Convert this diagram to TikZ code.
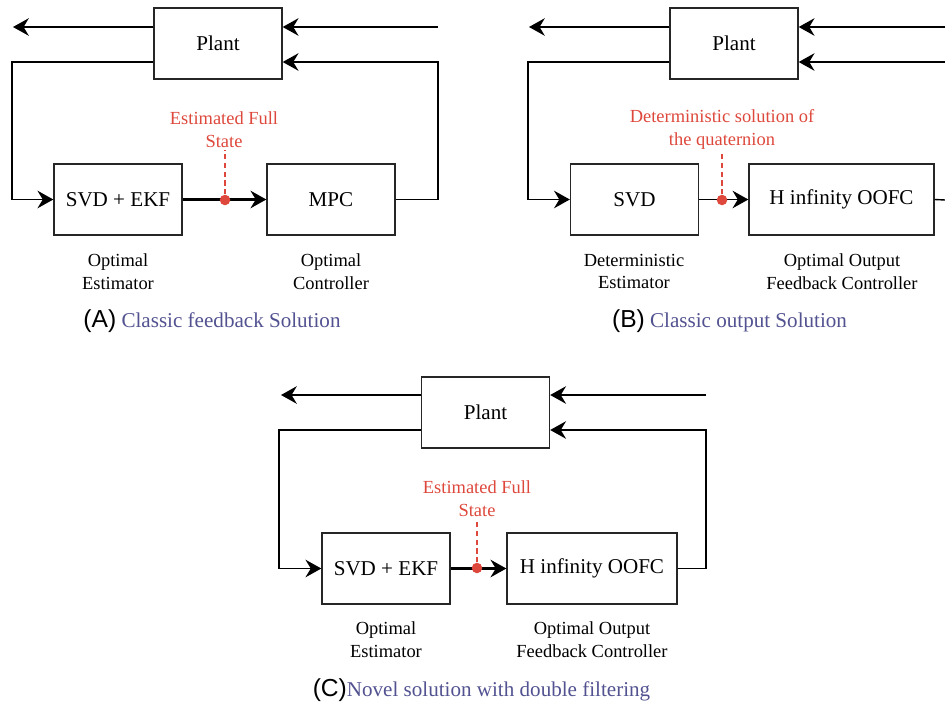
\documentclass[tikz,border=0pt]{standalone}
\usepackage{fontspec}
\setmainfont{Liberation Serif}
\newfontfamily\capsans{Liberation Sans}
\usetikzlibrary{arrows.meta}
\definecolor{notered}{RGB}{222,72,60}
\definecolor{capblue}{RGB}{82,82,145}
\tikzset{
	blockstyle/.style={rectangle,draw=black!85,line width=0.8pt,inner sep=0pt,minimum width=2.56cm,minimum height=1.42cm,font=\fontsize{12}{14}\selectfont},
	labelstyle/.style={align=center,inner sep=1pt,font=\fontsize{10.5}{13}\selectfont},
	notestyle/.style={align=center,inner sep=1pt,text=notered,font=\fontsize{10.5}{13}\selectfont},
	dotstyle/.style={circle,fill=notered,inner sep=0pt,minimum size=6pt},
	captionstyle/.style={inner sep=0pt,text=capblue,font=\fontsize{12}{14}\selectfont},
	linestyle/.style={line width=0.8pt,-{Stealth[length=9pt,width=10pt,inset=3pt]}},
	plainline/.style={line width=0.8pt},
	mainline/.style={line width=1.2pt,-{Stealth[length=9pt,width=10pt,inset=3pt]}},
	dashstyle/.style={draw=notered,line width=0.8pt,dash pattern=on 3pt off 2pt}
}
\begin{document}
\begin{tikzpicture}[x=0.02cm,y=-0.02cm]
		\useasboundingbox (0,0) rectangle (945,706);
		% (A)
		\node[blockstyle] (plantA) at (218,43.5) {Plant};
		\node[blockstyle] (estA) at (118,199.5) {SVD + EKF};
		\node[blockstyle] (ctrlA) at (331,199.5) {MPC};
		\node[notestyle] (noteA) at (224,129.5) {Estimated Full\\State};
		\node[labelstyle] (estlabA) at (118,271.5) {Optimal\\Estimator};
		\node[labelstyle] (ctrllabA) at (331,271.5) {Optimal\\Controller};
		\node[captionstyle] (capA) at (212,321) {{\color{black}\capsans\fontsize{14}{16}\selectfont(A)} Classic feedback Solution};
		\coordinate (outA) at (13,27);
		\coordinate (inA) at (438,27);
		\coordinate (fbA) at (438,62);
		\coordinate (msA) at (12,62);
		\draw[linestyle] (plantA.west |- outA)--(outA);
		\draw[linestyle] (inA)--(plantA.east |- inA);
		\draw[linestyle] (ctrlA.east) -| (fbA)--(plantA.east |- fbA);
		\draw[linestyle] (plantA.west |- msA)--(msA) |- (estA.west);
		\draw[mainline] (estA.east)--(ctrlA.west);
		\node[dotstyle] (dotA) at (225,200) {};
		\draw[dashstyle] (dotA)--(dotA |- noteA.south);
		% (B)
		\node[blockstyle] (plantB) at (734,43.5) {Plant};
		\node[blockstyle] (estB) at (634.5,199.5) {SVD};
		\node[blockstyle,minimum width=3.7cm] (ctrlB) at (841.5,199.5) {H infinity OOFC};
		\node[notestyle] (noteB) at (722,129.5) {Deterministic solution of\\the quaternion};
		\node[labelstyle] (estlabB) at (634,271.5) {Deterministic\\Estimator};
		\node[labelstyle] (ctrllabB) at (842,271.5) {Optimal Output\\Feedback Controller};
		\node[captionstyle] (capB) at (729.5,321) {{\color{black}\capsans\fontsize{14}{16}\selectfont(B)} Classic output Solution};
		\coordinate (outB) at (529,27);
		\coordinate (inB) at (945,27);
		\coordinate (fbB) at (945,62);
		\coordinate (msB) at (528,62);
		\coordinate (exitB) at (945,200);
		\draw[linestyle] (plantB.west |- outB)--(outB);
		\draw[linestyle] (inB)--(plantB.east |- inB);
		\draw[linestyle] (fbB)--(plantB.east |- fbB);
		\draw[plainline] (ctrlB.east)--(exitB);
		\draw[linestyle] (plantB.west |- msB)--(msB) |- (estB.west);
		\draw[linestyle] (estB.east)--(ctrlB.west);
		\node[dotstyle] (dotB) at (722,200) {};
		\draw[dashstyle] (dotB)--(dotB |- noteB.south);
		% (C)
		\node[blockstyle] (plantC) at (485.5,412.5) {Plant};
		\node[blockstyle] (estC) at (386,568.5) {SVD + EKF};
		\node[blockstyle,minimum width=3.4cm] (ctrlC) at (592,568.5) {H infinity OOFC};
		\node[notestyle] (noteC) at (477,498.5) {Estimated Full\\State};
		\node[labelstyle] (estlabC) at (386,639.5) {Optimal\\Estimator};
		\node[labelstyle] (ctrllabC) at (592,639.5) {Optimal Output\\Feedback Controller};
		\node[captionstyle] (capC) at (481.5,690) {{\color{black}\capsans\fontsize{14}{16}\selectfont(C)}Novel solution with double filtering};
		\coordinate (outC) at (281,395);
		\coordinate (inC) at (706,395);
		\coordinate (fbC) at (706,430);
		\coordinate (msC) at (279,430);
		\draw[linestyle] (plantC.west |- outC)--(outC);
		\draw[linestyle] (inC)--(plantC.east |- inC);
		\draw[linestyle] (ctrlC.east) -| (fbC)--(plantC.east |- fbC);
		\draw[linestyle] (plantC.west |- msC)--(msC) |- (estC.west);
		\draw[mainline] (estC.east)--(ctrlC.west);
		\node[dotstyle] (dotC) at (477,568) {};
		\draw[dashstyle] (dotC)--(dotC |- noteC.south);
		\end{tikzpicture}
\end{document}
